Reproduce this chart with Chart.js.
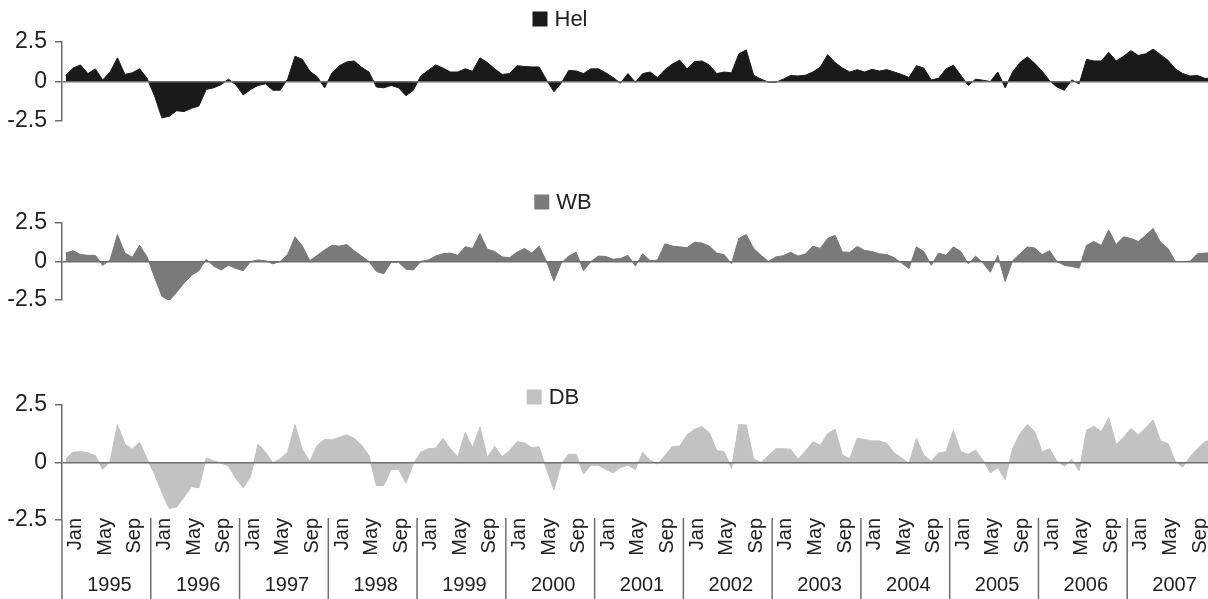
<!DOCTYPE html>
<html>
<head>
<meta charset="utf-8">
<script src="https://cdn.jsdelivr.net/npm/chart.js@4.4.0/dist/chart.umd.min.js"></script>
<style>
  body{margin:0;background:#fff;overflow:hidden;width:1208px;height:599px;position:relative}
  canvas{position:absolute;left:0}
</style>
</head>
<body>
<canvas id="hel" width="1220" height="150" style="top:0"></canvas>
<canvas id="wb" width="1220" height="150" style="top:180px"></canvas>
<canvas id="db" width="1220" height="229" style="top:370px"></canvas>
<script>
// meses y años del eje x
const years=['1995','1996','1997','1998','1999','2000','2001','2002','2003','2004','2005','2006','2007']
const monthNames=['Jan','Feb','Mar','Apr','May','Jun','Jul','Aug','Sep','Oct','Nov','Dec']
const shownMonths=['Jan','May','Sep']
const yTicks=[-2.5,0,2.5]

// valores mensuales (ene 1995 - dic 2007)
const hel=[
 0.38,0.85,1.05,0.5,0.8,0.1,0.6,1.5,0.45,0.55,0.8,0.2,
 -0.9,-2.3,-2.2,-1.85,-1.9,-1.7,-1.55,-0.5,-0.4,-0.2,0.15,-0.2,
 -0.85,-0.5,-0.25,-0.15,-0.55,-0.55,0.15,1.6,1.4,0.65,0.3,-0.4,
 0.55,1.0,1.24,1.3,0.9,0.6,-0.35,-0.4,-0.25,-0.4,-0.9,-0.55,
 0.35,0.7,1.05,0.85,0.6,0.6,0.8,0.65,1.5,1.2,0.8,0.45,
 0.5,1.0,0.95,0.92,0.92,0.1,-0.65,-0.1,0.7,0.67,0.5,0.8,
 0.8,0.55,0.25,-0.1,0.5,-0.05,0.5,0.6,0.25,0.75,1.1,1.35,
 0.8,1.25,1.3,1.05,0.5,0.6,0.55,1.75,2.0,0.4,0.15,-0.04,
 -0.05,0.15,0.38,0.35,0.4,0.6,0.9,1.7,1.2,0.85,0.6,0.75,
 0.6,0.77,0.66,0.75,0.6,0.45,0.25,1.0,0.85,0.1,0.2,0.8,
 1.03,0.4,-0.25,0.15,0.08,0.0,0.6,-0.4,0.6,1.2,1.55,1.15,
 0.65,0.05,-0.35,-0.55,0.1,-0.15,1.4,1.3,1.3,1.85,1.3,1.6,
 1.95,1.65,1.75,2.05,1.7,1.35,0.8,0.5,0.35,0.38,0.2,0.2
]
const wb=[
 0.55,0.7,0.45,0.4,0.4,-0.25,0.1,1.75,0.55,0.28,1.05,0.3,
 -1.0,-2.25,-2.55,-2.0,-1.4,-0.9,-0.6,0.15,-0.3,-0.55,-0.25,-0.45,
 -0.6,0.0,0.1,0.05,-0.15,0.0,0.45,1.6,1.0,0.05,0.4,0.75,
 1.05,1.0,1.1,0.7,0.35,0.0,-0.65,-0.8,-0.05,-0.05,-0.5,-0.55,
 0.0,0.1,0.35,0.5,0.55,0.4,0.95,0.85,1.8,0.8,0.65,0.3,
 0.25,0.6,0.85,0.55,1.0,0.0,-1.25,-0.1,0.35,0.6,-0.6,0.0,
 0.35,0.33,0.15,0.2,0.4,-0.3,0.5,0.05,0.1,1.15,1.0,0.95,
 0.9,1.25,1.2,1.0,0.55,0.45,-0.15,1.5,1.75,0.85,0.4,0.0,
 0.3,0.38,0.6,0.35,0.48,1.0,0.85,1.5,1.7,0.62,0.6,0.98,
 0.72,0.65,0.5,0.45,0.25,-0.1,-0.45,0.95,0.65,-0.25,0.55,0.4,
 0.95,0.65,-0.15,0.35,-0.1,-0.7,0.4,-1.3,0.05,0.5,0.95,0.87,
 0.45,0.7,0.0,-0.25,-0.33,-0.43,1.05,1.3,1.05,2.05,1.1,1.6,
 1.5,1.3,1.7,2.15,1.25,0.85,0.0,0.0,0.02,0.5,0.55,0.55
]
const db=[
 0.15,0.45,0.48,0.42,0.3,-0.3,0.05,1.65,0.8,0.58,0.88,0.15,
 -0.5,-1.3,-2.0,-1.93,-1.5,-1.05,-1.1,0.2,0.07,-0.02,-0.15,-0.7,
 -1.1,-0.6,0.8,0.45,0.0,0.15,0.45,1.65,0.55,0.05,0.75,1.0,
 0.98,1.1,1.2,1.05,0.75,0.3,-1.0,-1.0,-0.3,-0.3,-0.9,-0.05,
 0.45,0.6,0.62,1.05,0.6,0.25,1.3,0.65,1.55,0.22,0.7,0.25,
 0.52,0.9,0.85,0.65,0.68,-0.3,-1.2,-0.05,0.36,0.36,-0.5,-0.12,
 -0.12,-0.3,-0.45,-0.22,-0.12,-0.3,0.45,0.1,-0.07,0.3,0.7,0.71,
 1.2,1.45,1.56,1.3,0.52,0.47,-0.25,1.65,1.63,0.15,0.0,0.3,
 0.6,0.6,0.57,0.15,0.5,0.9,0.75,1.25,1.45,0.32,0.17,1.05,
 1.0,0.94,0.94,0.83,0.42,0.2,-0.05,1.05,0.32,0.06,0.42,0.47,
 1.4,0.47,0.36,0.54,0.1,-0.45,-0.22,-0.74,0.6,1.25,1.65,1.34,
 0.47,0.6,0.06,-0.16,0.13,-0.36,1.4,1.58,1.34,1.95,0.78,1.1,
 1.48,1.2,1.5,1.85,0.94,0.83,0.05,-0.2,0.25,0.6,0.9,1.0
]

const labels=years.flatMap(y=>monthNames.map(m=>m+' '+y))
const axisColor='#6e6e6e'
const textColor='#222'
const family='"Liberation Sans", Arial, sans-serif'
const font='20px '+family
const legendFont='22px '+family

Chart.defaults.font.family=family
Chart.defaults.font.size=20
Chart.defaults.color=textColor

// leyenda pequeña centrada sobre cada panel
const panelLegend={
  id:'panelLegend',
  afterDraw(chart,args,opts){
    const ds=chart.data.datasets[0]
    const ctx=chart.ctx
    ctx.save()
    ctx.font=legendFont
    const tw=ctx.measureText(ds.label).width
    const box=15, gap=7
    const x0=opts.cx-(box+gap+tw)/2
    ctx.fillStyle=ds.backgroundColor
    ctx.fillRect(x0,opts.cy-box/2,box,box)
    ctx.fillStyle=textColor
    ctx.textBaseline='middle'
    ctx.fillText(ds.label,x0+box+gap,opts.cy+1)
    ctx.restore()
  }
}

// eje de meses + años (solo panel de abajo)
const yearAxis={
  id:'yearAxis',
  afterDraw(chart){
    const x=chart.scales.x
    const a=chart.chartArea
    const ctx=chart.ctx
    const h=chart.height
    const half=(x.getPixelForValue(1)-x.getPixelForValue(0))/2
    ctx.save()
    ctx.strokeStyle=axisColor
    ctx.lineWidth=1.5
    ctx.fillStyle=textColor
    ctx.font=font
    years.forEach((yr,k)=>{
      const left=x.getPixelForValue(k*12)-half
      const right=x.getPixelForValue(k*12+11)+half
      ctx.beginPath()
      ctx.moveTo(left,k===0?a.bottom:a.bottom-2)
      ctx.lineTo(left,h)
      ctx.stroke()
      shownMonths.forEach(m=>{
        const px=x.getPixelForValue(k*12+monthNames.indexOf(m))
        ctx.save()
        ctx.translate(px+15.5,a.bottom-2)
        ctx.rotate(-Math.PI/2)
        ctx.textAlign='right'
        ctx.textBaseline='alphabetic'
        ctx.fillText(m,0,0)
        ctx.restore()
      })
      ctx.textAlign='center'
      ctx.textBaseline='middle'
      ctx.fillText(yr,(left+right)/2+3,a.bottom+65)
    })
    ctx.restore()
  }
}

const makePanel=(id,label,data,color,pad,legendPos,extra)=>{
  return new Chart(document.getElementById(id),{
    type:'line',
    data:{
      labels:labels,
      datasets:[{
        label:label,
        data:data,
        fill:'origin',
        backgroundColor:color,
        borderColor:color,
        borderWidth:1,
        pointRadius:0,
        tension:0
      }]
    },
    options:{
      responsive:false,
      animation:false,
      devicePixelRatio:1,
      layout:{padding:pad},
      plugins:{
        legend:{display:false},
        tooltip:{enabled:false},
        panelLegend:legendPos
      },
      scales:{
        x:{type:'category',offset:true,display:false},
        y:{
          min:-2.5,max:2.5,
          afterFit:(s)=>{s.width=62},
          afterBuildTicks:(s)=>{s.ticks=yTicks.map(v=>({value:v}))},
          ticks:{padding:8,color:textColor,font:{size:23},callback:(v)=>String(v)},
          grid:{
            z:1,
            color:(c)=>c.tick && c.tick.value===0?axisColor:'rgba(0,0,0,0)',
            lineWidth:1.5,
            tickColor:axisColor,
            tickWidth:1.5,
            tickLength:7
          },
          border:{display:true,color:axisColor,width:1.5,z:1}
        }
      }
    },
    plugins:extra?[panelLegend,extra]:[panelLegend]
  })
}

makePanel('hel','Hel',hel,'#1a1a1a',{top:42,bottom:29,left:0,right:4},{cx:560,cy:19})
makePanel('wb','WB',wb,'#7a7a7a',{top:43,bottom:30,left:0,right:4},{cx:563,cy:202-180})
makePanel('db','DB',db,'#c2c2c2',{top:35,bottom:79,left:0,right:4},{cx:553,cy:397-370},yearAxis)
</script>
</body>
</html>
